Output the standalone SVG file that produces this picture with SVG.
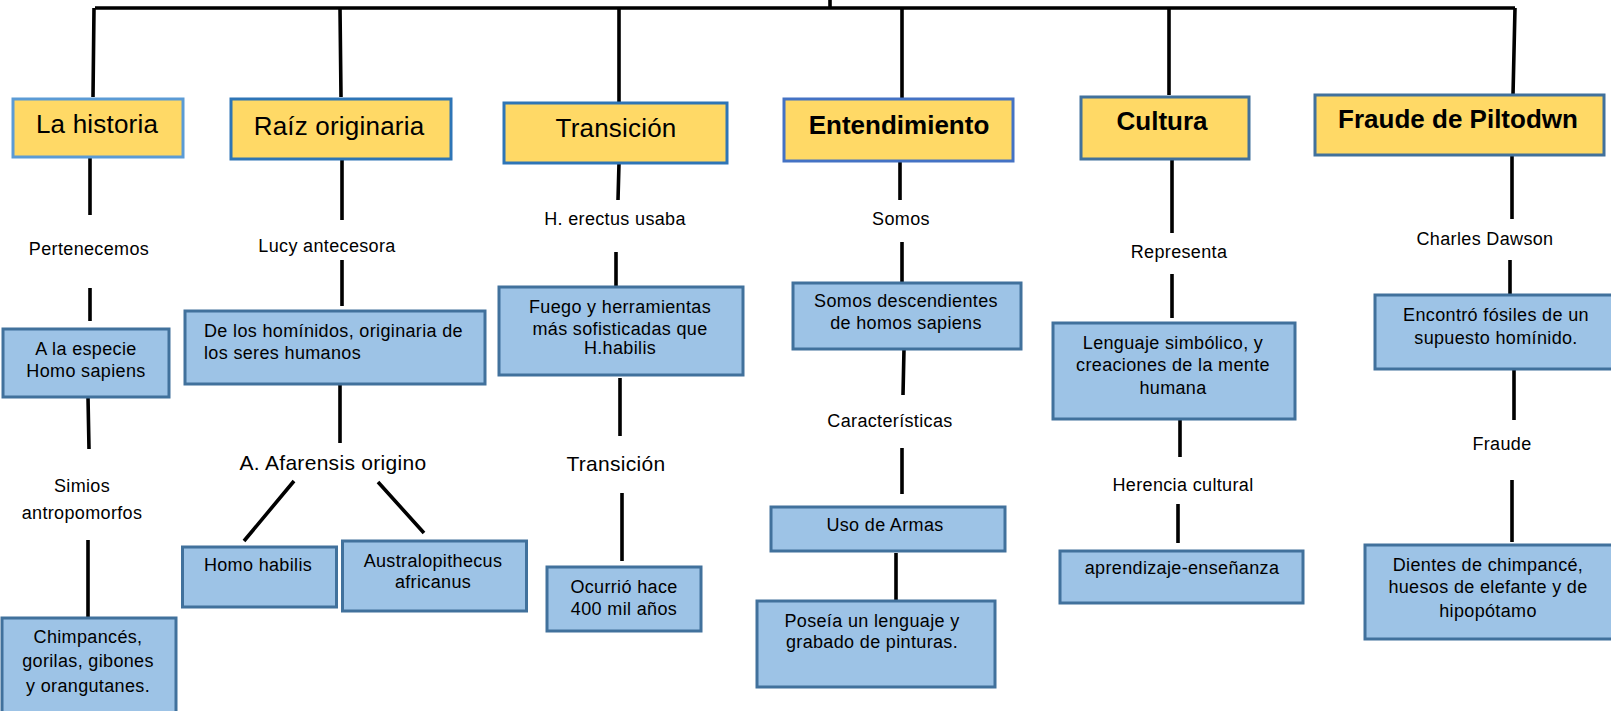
<svg xmlns="http://www.w3.org/2000/svg" width="1611" height="711" viewBox="0 0 1611 711">
<style>
text{font-family:"Liberation Sans",Arial,sans-serif;fill:#000;text-anchor:middle}
.h{font-size:26px;letter-spacing:0.2px}
.hb{font-size:26px;font-weight:bold}
.l{font-size:18px;letter-spacing:0.35px}
.m{font-size:21px;letter-spacing:0.3px}
.t{font-size:18px;letter-spacing:0.35px}
.y{fill:#FFD966;stroke-width:3}
.b{fill:#9DC3E6;stroke:#41719C;stroke-width:3}
#conn path{stroke:#000;stroke-width:3.6;fill:none;stroke-linecap:butt}
</style>
<rect width="1611" height="711" fill="#fff"/>
<g id="conn">
<path d="M95,8 H1515 M830,0 V8"/>
<path d="M94,8 L93,97 M340,8 L341,97 M619,8 V102 M902,8 V99 M1169,8 V95 M1515,8 L1513,95"/>
<path d="M90,157 V215 M90,288 V321 M88,397 L89,449 M88,540 V618"/>
<path d="M342,159 V220 M342,260 V306 M340,377 V443 M294,481 L244,541 M378,482 L424,533"/>
<path d="M619,163 L618,200 M616,252 V290 M620,378 V436 M622,493 V561"/>
<path d="M900,161 V200 M902,242 V282 M904,349 L903,395 M902,448 V494 M896,553 V600"/>
<path d="M1172,159 V233 M1172,274 V318 M1180,418 V457 M1178,504 V543"/>
<path d="M1512,155 V219 M1510,260 V295 M1514,368 V420 M1512,480 V542"/>
</g>
<g id="la-historia"><rect class="y" x="13" y="99" width="170" height="58" stroke="#5B9BD5"/><text class="h" x="97" y="133">La historia</text></g>
<g id="raiz"><rect class="y" x="231" y="99" width="220" height="60" stroke="#2E75B6"/><text class="h" x="339" y="135">Raíz originaria</text></g>
<g id="transicion"><rect class="y" x="504" y="103" width="223" height="60" stroke="#2E75B6"/><text class="h" x="616" y="137">Transición</text></g>
<g id="entendimiento"><rect class="y" x="784" y="99" width="229" height="62" stroke="#4472C4"/><text class="hb" x="899" y="134">Entendimiento</text></g>
<g id="cultura"><rect class="y" x="1081" y="97" width="168" height="62" stroke="#41719C"/><text class="hb" x="1162" y="130">Cultura</text></g>
<g id="fraude-piltdown"><rect class="y" x="1315" y="95" width="289" height="60" stroke="#41719C"/><text class="hb" x="1458" y="128">Fraude de Piltodwn</text></g>

<g id="lbl-pertenecemos"><text class="l" x="89" y="255">Pertenecemos</text></g>
<g id="lbl-simios"><text class="l" x="82" y="492">Simios</text><text class="l" x="82" y="519">antropomorfos</text></g>
<g id="lbl-lucy"><text class="l" x="327" y="252">Lucy antecesora</text></g>
<g id="lbl-afarensis"><text class="m" x="333" y="470">A. Afarensis origino</text></g>
<g id="lbl-erectus"><text class="l" x="615" y="225">H. erectus usaba</text></g>
<g id="lbl-transicion2"><text class="m" x="616" y="471">Transición</text></g>
<g id="lbl-somos"><text class="l" x="901" y="225">Somos</text></g>
<g id="lbl-caracteristicas"><text class="l" x="890" y="427">Características</text></g>
<g id="lbl-representa"><text class="l" x="1179" y="258">Representa</text></g>
<g id="lbl-herencia"><text class="l" x="1183" y="491">Herencia cultural</text></g>
<g id="lbl-dawson"><text class="l" x="1485" y="245">Charles Dawson</text></g>
<g id="lbl-fraude"><text class="l" x="1502" y="450">Fraude</text></g>

<g id="homo-sapiens"><rect class="b" x="3" y="329" width="166" height="68"/><text class="t" x="86" y="355">A la especie</text><text class="t" x="86" y="377">Homo sapiens</text></g>
<g id="chimpances"><rect class="b" x="2" y="618" width="174" height="100"/><text class="t" x="88" y="643">Chimpancés,</text><text class="t" x="88" y="667">gorilas, gibones</text><text class="t" x="88" y="692">y orangutanes.</text></g>
<g id="hominidos"><rect class="b" x="185" y="311" width="300" height="73"/><text class="t" x="204" y="337" style="text-anchor:start">De los homínidos, originaria de</text><text class="t" x="204" y="359" style="text-anchor:start">los seres humanos</text></g>
<g id="homo-habilis"><rect class="b" x="182.5" y="547" width="154" height="60"/><text class="t" x="258" y="571">Homo habilis</text></g>
<g id="australopithecus"><rect class="b" x="342.5" y="541" width="184" height="70"/><text class="t" x="433" y="567">Australopithecus</text><text class="t" x="433" y="588">africanus</text></g>
<g id="fuego"><rect class="b" x="499" y="287" width="244" height="88"/><text class="t" x="620" y="313">Fuego y herramientas</text><text class="t" x="620" y="335">más sofisticadas que</text><text class="t" x="620" y="354">H.habilis</text></g>
<g id="ocurrio"><rect class="b" x="547" y="567" width="154" height="64"/><text class="t" x="624" y="593">Ocurrió hace</text><text class="t" x="624" y="615">400 mil años</text></g>
<g id="descendientes"><rect class="b" x="793" y="283" width="228" height="66"/><text class="t" x="906" y="307">Somos descendientes</text><text class="t" x="906" y="329">de homos sapiens</text></g>
<g id="armas"><rect class="b" x="771" y="507" width="234" height="44"/><text class="t" x="885" y="531">Uso de Armas</text></g>
<g id="poseia"><rect class="b" x="757" y="601" width="238" height="86"/><text class="t" x="872" y="627">Poseía un lenguaje y</text><text class="t" x="872" y="648">grabado de pinturas.</text></g>
<g id="lenguaje"><rect class="b" x="1053" y="323" width="242" height="96"/><text class="t" x="1173" y="349">Lenguaje simbólico, y</text><text class="t" x="1173" y="371">creaciones de la mente</text><text class="t" x="1173" y="394">humana</text></g>
<g id="aprendizaje"><rect class="b" x="1060" y="551" width="243" height="52"/><text class="t" x="1182" y="574">aprendizaje-enseñanza</text></g>
<g id="encontro"><rect class="b" x="1375" y="295" width="240" height="74"/><text class="t" x="1496" y="321">Encontró fósiles de un</text><text class="t" x="1496" y="344">supuesto homínido.</text></g>
<g id="dientes"><rect class="b" x="1365" y="545" width="250" height="94"/><text class="t" x="1488" y="571">Dientes de chimpancé,</text><text class="t" x="1488" y="593">huesos de elefante y de</text><text class="t" x="1488" y="617">hipopótamo</text></g>
</svg>
